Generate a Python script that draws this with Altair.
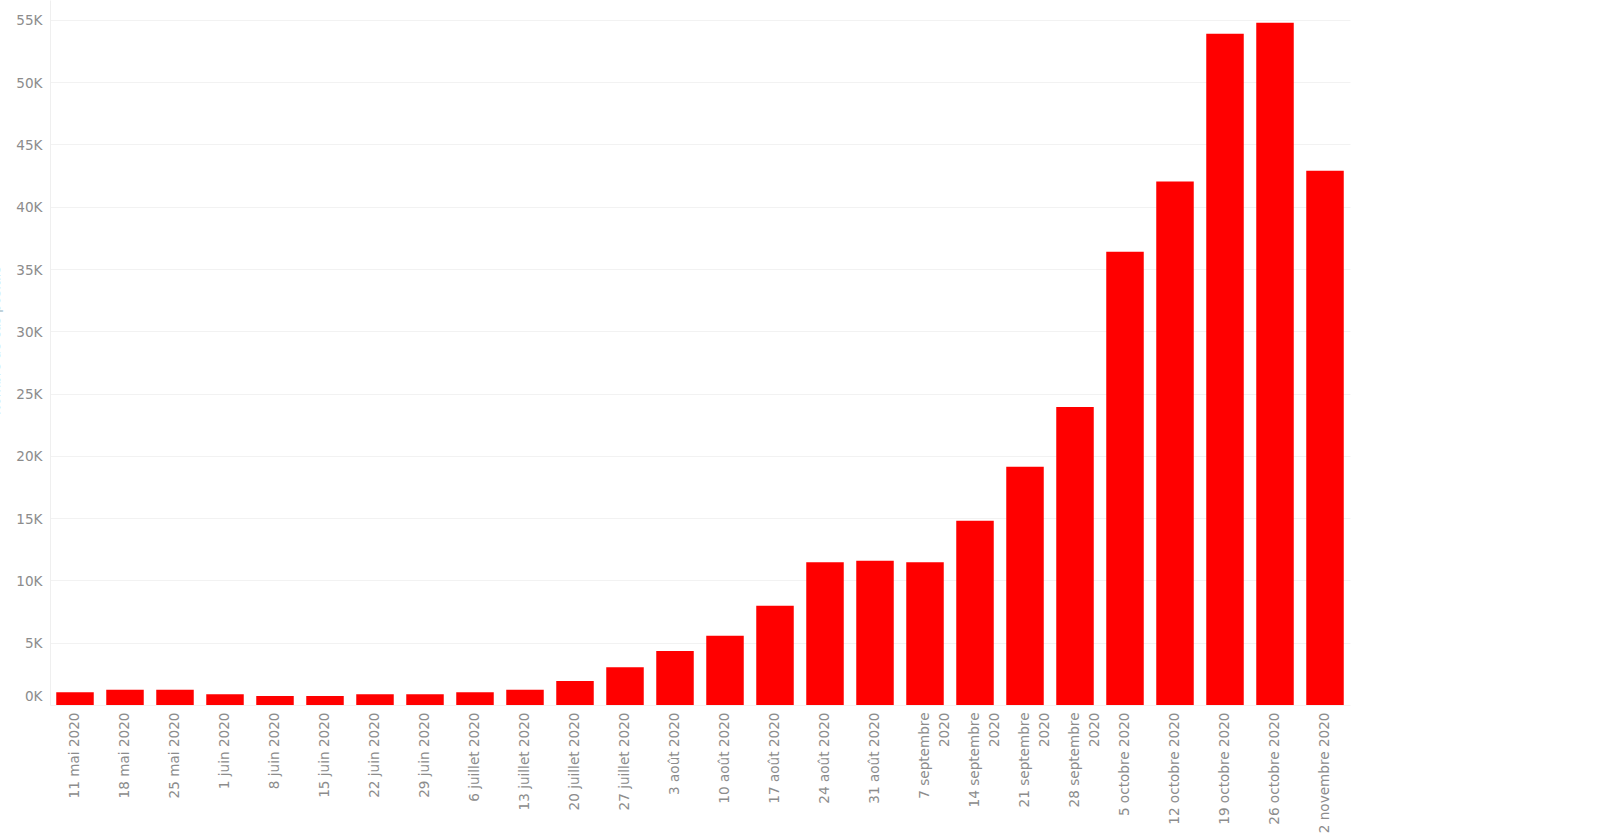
import altair as alt
import pandas as pd

weeks = [
    "11 mai 2020", "18 mai 2020", "25 mai 2020", "1 juin 2020", "8 juin 2020",
    "15 juin 2020", "22 juin 2020", "29 juin 2020", "6 juillet 2020",
    "13 juillet 2020", "20 juillet 2020", "27 juillet 2020", "3 août 2020",
    "10 août 2020", "17 août 2020", "24 août 2020", "31 août 2020",
    "7 septembre|2020", "14 septembre|2020", "21 septembre|2020",
    "28 septembre|2020", "5 octobre 2020", "12 octobre 2020",
    "19 octobre 2020", "26 octobre 2020", "2 novembre 2020",
]
cases = [
    1020, 1230, 1230, 860, 720, 720, 860, 860, 1020, 1230, 1930, 3030,
    4340, 5550, 7960, 11470, 11580, 11470, 14790, 19130, 23930, 36390,
    42020, 53900, 54770, 42900,
]
y_ticks = [0, 5000, 10000, 15000, 20000, 25000, 30000, 35000, 40000, 45000, 50000, 55000]

df = pd.DataFrame({"semaine": weeks, "cas": cases})

chart = alt.Chart(df).mark_bar(color="#ff0000").encode(
    x=alt.X(
        "semaine:N",
        sort=None,
        title=None,
        scale=alt.Scale(paddingInner=0.25, paddingOuter=0.125),
        axis=alt.Axis(
            labelAngle=-90,
            labelAlign="right",
            labelBaseline="middle",
            labelExpr="split(datum.label, '|')",
            labelFont="DejaVu Sans",
            labelFontSize=13.6,
            labelColor="#8c8c8c",
            labelLineHeight=20,
            labelPadding=7,
            ticks=False,
            domain=False,
            grid=False,
            labelOverlap=False,
        ),
    ),
    y=alt.Y(
        "cas:Q",
        title="Nombre de cas positifs",
        scale=alt.Scale(domain=[0, 56600], nice=False),
        axis=alt.Axis(
            values=y_ticks,
            labelExpr="datum.value / 1000 + 'K'",
            labelFont="DejaVu Sans",
            labelFontSize=13.6,
            labelColor="#8c8c8c",
            labelPadding=8,
            labelOffset={"condition": {"test": "datum.value === 0", "value": -9}, "value": 1},
            ticks=False,
            domain=True,
            domainColor="#efefef",
            gridColor="#f2f2f2",
            gridWidth=1,
            titleX=-48,
            titleY=340,
            titleAngle=270,
            titleBaseline="bottom",
            titleFont="DejaVu Sans",
            titleFontSize=13,
            titleFontWeight="normal",
            titleColor="#8fb3bf",
        ),
    ),
).properties(
    width=1300,
    height=705,
    autosize=alt.AutoSizeParams(type="none"),
    padding={"left": 50, "top": 0, "right": 253, "bottom": 132},
).configure(background="white").configure_view(stroke=None, strokeWidth=0)

chart.save("out.html", embed_options={"renderer": "svg", "actions": False})
